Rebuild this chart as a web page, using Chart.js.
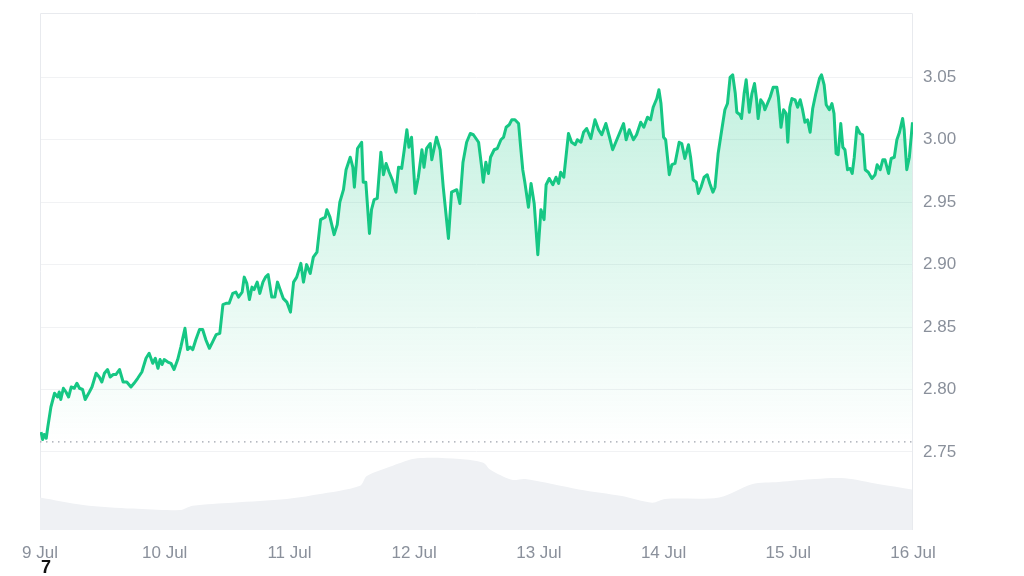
<!DOCTYPE html>
<html>
<head>
<meta charset="utf-8">
<script src="https://cdn.jsdelivr.net/npm/chart.js@4.4.1/dist/chart.umd.min.js"></script>
<style>
  html, body { margin: 0; padding: 0; background: #fff; }
  #wrap { position: relative; width: 1024px; height: 576px; overflow: hidden; }
  #stray { position: absolute; left: 41px; top: 557px; font: bold 18px "Liberation Sans", Arial, sans-serif; color: #111; }
</style>
</head>
<body>
<div id="wrap">
  <canvas id="price-chart"></canvas>
  <div id="stray">7</div>
</div>
<script>
// hours since 9 Jul 00:00
const priceTimes = [
  0.2, 0.5, 0.8, 1.2, 1.5, 2.1, 2.8, 3.4, 3.7, 4.0, 4.5, 5.0, 5.5, 6.0, 6.6, 7.1, 7.6, 8.2, 8.7, 9.5,
  10.0, 10.8, 11.4, 11.9, 12.4, 13.0, 13.5, 14.1, 14.6, 15.3, 16.0, 16.7, 17.5, 18.1, 18.8, 19.6, 20.4, 21.0, 21.7, 22.2,
  22.7, 23.1, 23.5, 23.9, 24.6, 25.2, 25.8, 26.5, 27.1, 27.9, 28.4, 28.9, 29.4, 30.0, 30.7, 31.3, 31.9, 32.6, 33.2, 33.9,
  34.6, 35.2, 35.8, 36.4, 37.1, 37.7, 38.2, 38.9, 39.3, 39.8, 40.3, 40.8, 41.2, 41.8, 42.3, 42.9, 43.4, 43.9, 44.6, 45.2,
  45.7, 46.2, 46.8, 47.5, 48.2, 48.8, 49.4, 50.2, 50.7, 51.3, 52.0, 52.6, 53.3, 54.0, 54.9, 55.2, 55.8, 56.6, 57.2, 57.7,
  58.4, 58.9, 59.3, 59.7, 60.2, 60.5, 61.1, 61.9, 62.2, 62.7, 63.4, 63.8, 64.3, 64.9, 65.6, 66.1, 66.6, 67.2, 67.8, 68.5,
  69.0, 69.6, 70.1, 70.6, 71.0, 71.5, 72.2, 72.8, 73.5, 73.9, 74.4, 75.1, 75.4, 76.3, 77.0, 77.6, 78.6, 79.2, 80.2, 80.8,
  81.4, 82.1, 82.8, 83.4, 84.4, 85.0, 85.3, 85.8, 86.3, 86.7, 87.4, 88.0, 88.7, 89.2, 89.7, 90.3, 90.8, 91.4, 92.1, 92.5,
  92.9, 93.3, 94.0, 94.5, 95.1, 95.8, 96.4, 97.0, 97.4, 98.0, 98.7, 99.3, 99.8, 100.2, 100.8, 101.7, 102.3, 103.0, 103.4, 104.1,
  104.6, 105.2, 106.0, 106.8, 107.5, 108.1, 108.9, 109.6, 110.2, 111.0, 111.8, 112.3, 112.8, 113.4, 114.2, 114.8, 115.6, 116.2, 116.9, 117.5,
  118.0, 118.7, 119.1, 119.5, 120.0, 120.4, 121.1, 121.6, 122.2, 123.0, 123.5, 124.1, 124.8, 125.2, 125.7, 126.3, 126.7, 127.2, 127.8, 128.4,
  128.9, 129.5, 129.9, 130.5, 131.2, 131.8, 132.3, 132.8, 133.3, 133.8, 134.1, 134.7, 135.0, 135.5, 135.9, 136.5, 137.0, 137.5, 137.9, 138.2,
  138.7, 139.2, 139.5, 140.0, 140.5, 141.1, 141.8, 142.1, 142.6, 143.1, 143.6, 143.9, 144.3, 144.7, 145.3, 145.8, 146.3, 146.7, 147.2, 147.7,
  148.2, 148.7, 149.3, 150.0, 150.4, 150.9, 151.3, 151.9, 152.4, 152.8, 153.2, 153.6, 154.1, 154.5, 154.9, 155.4, 155.9, 156.3, 156.7, 157.2,
  157.8, 158.3, 158.8, 159.4, 160.1, 160.7, 161.1, 161.7, 162.2, 162.6, 163.3, 163.8, 164.4, 164.9, 165.4, 166.0, 166.3, 166.8, 167.3, 167.9
];
const priceValues = [
  2.766, 2.760, 2.764, 2.761, 2.770, 2.786, 2.797, 2.794, 2.798, 2.792, 2.801, 2.798, 2.794, 2.802, 2.801, 2.805, 2.801, 2.800, 2.792, 2.798,
  2.802, 2.813, 2.810, 2.806, 2.813, 2.816, 2.810, 2.812, 2.812, 2.816, 2.806, 2.806, 2.802, 2.805, 2.809, 2.814, 2.825, 2.829, 2.821, 2.825,
  2.817, 2.824, 2.820, 2.824, 2.822, 2.821, 2.816, 2.824, 2.834, 2.849, 2.832, 2.834, 2.832, 2.840, 2.848, 2.848, 2.840, 2.833, 2.838, 2.844,
  2.845, 2.868, 2.869, 2.869, 2.877, 2.878, 2.874, 2.878, 2.890, 2.885, 2.872, 2.882, 2.880, 2.886, 2.877, 2.886, 2.890, 2.892, 2.874, 2.874,
  2.886, 2.880, 2.873, 2.870, 2.862, 2.886, 2.890, 2.901, 2.886, 2.900, 2.893, 2.906, 2.910, 2.936, 2.938, 2.944, 2.938, 2.924, 2.932, 2.950,
  2.960, 2.976, 2.981, 2.986, 2.978, 2.962, 2.993, 2.998, 2.966, 2.966, 2.925, 2.944, 2.952, 2.953, 2.990, 2.972, 2.981, 2.974, 2.968, 2.958,
  2.978, 2.977, 2.992, 3.008, 2.994, 3.002, 2.957, 2.970, 2.992, 2.978, 2.993, 2.997, 2.984, 3.002, 2.992, 2.962, 2.921, 2.958, 2.960, 2.949,
  2.982, 2.998, 3.005, 3.004, 2.998, 2.978, 2.966, 2.982, 2.973, 2.986, 2.992, 2.993, 3.000, 3.002, 3.010, 3.012, 3.016, 3.016, 3.013, 2.994,
  2.976, 2.966, 2.946, 2.965, 2.949, 2.908, 2.944, 2.936, 2.964, 2.969, 2.964, 2.970, 2.965, 2.974, 2.970, 3.005, 2.998, 2.996, 3.000, 2.998,
  3.006, 3.009, 3.001, 3.016, 3.008, 3.004, 3.013, 3.002, 2.992, 3.000, 3.008, 3.013, 3.000, 3.008, 3.000, 3.004, 3.014, 3.010, 3.018, 3.016,
  3.026, 3.033, 3.040, 3.029, 3.002, 3.000, 2.972, 2.980, 2.981, 2.998, 2.997, 2.985, 2.996, 2.986, 2.968, 2.966, 2.957, 2.962, 2.970, 2.972,
  2.965, 2.958, 2.962, 2.989, 3.008, 3.024, 3.029, 3.050, 3.052, 3.037, 3.022, 3.020, 3.017, 3.037, 3.048, 3.022, 3.037, 3.045, 3.032, 3.017,
  3.032, 3.029, 3.024, 3.029, 3.034, 3.042, 3.042, 3.034, 3.010, 3.024, 3.021, 2.998, 3.026, 3.033, 3.032, 3.026, 3.032, 3.025, 3.014, 3.016,
  3.006, 3.025, 3.037, 3.049, 3.052, 3.044, 3.028, 3.024, 3.029, 3.021, 2.989, 2.988, 3.013, 2.994, 2.992, 2.976, 2.977, 2.973, 2.986, 3.010,
  3.005, 3.004, 2.976, 2.974, 2.969, 2.972, 2.980, 2.976, 2.984, 2.984, 2.973, 2.985, 2.986, 3.000, 3.006, 3.017, 3.008, 2.976, 2.986, 3.014
];
const baselinePrice = 2.758;

// trading volume, millions USD
const volumeTimes = [0, 8.3, 17.9, 26.9, 29.4, 37.1, 47.5, 53.3, 61.6, 62.9, 67.9, 72.6, 80.8, 85.3,
  86.6, 90.8, 93.4, 103.7, 112.0, 117.8, 120.3, 130.7, 137.0, 142.2, 149.2, 154.9, 161.5, 167.8];
const volumeValues = [44, 34, 29, 27, 33, 37, 42, 48, 60, 73, 87, 97, 96, 91,
  82, 68, 69, 55, 46, 37, 42, 44, 62, 65, 69, 70, 62, 55];

const dayLabels = ['9 Jul', '10 Jul', '11 Jul', '12 Jul', '13 Jul', '14 Jul', '15 Jul', '16 Jul'];
const yTicks = [2.75, 2.80, 2.85, 2.90, 2.95, 3.00, 3.05];

const green = 'rgb(22, 199, 132)';
const labelFont = { family: '"Liberation Sans", Arial, sans-serif', size: 17 };
const labelColor = '#8a909b';

const pricePoints = priceTimes.map((t, i) => ({ x: t, y: priceValues[i] }));
const volumePoints = volumeTimes.map((t, i) => ({ x: t, y: volumeValues[i] }));

function priceFill(context) {
  const { chart } = context;
  const { chartArea, scales } = chart;
  if (!chartArea) return 'rgba(22, 199, 132, 0.15)';
  const top = scales.y.getPixelForValue(3.05);
  const bottom = scales.y.getPixelForValue(baselinePrice);
  const g = chart.ctx.createLinearGradient(0, top, 0, bottom);
  g.addColorStop(0, 'rgba(22, 199, 132, 0.26)');
  g.addColorStop(1, 'rgba(22, 199, 132, 0.0)');
  return g;
}

const frame = {
  id: 'frame',
  beforeDatasetsDraw(chart) {
    const { ctx, chartArea: a } = chart;
    ctx.save();
    ctx.strokeStyle = '#e8eaee';
    ctx.lineWidth = 1;
    ctx.beginPath();
    ctx.moveTo(a.left + 0.5, a.bottom);
    ctx.lineTo(a.left + 0.5, a.top + 0.5);
    ctx.lineTo(a.right - 0.5, a.top + 0.5);
    ctx.lineTo(a.right - 0.5, a.bottom);
    ctx.stroke();
    ctx.restore();
  },
};

new Chart(document.getElementById('price-chart'), {
  type: 'line',
  data: {
    datasets: [
      {
        label: 'Price',
        data: pricePoints,
        borderColor: green,
        borderWidth: 3,
        borderJoinStyle: 'round',
        pointRadius: 0,
        tension: 0,
        fill: { value: baselinePrice },
        backgroundColor: priceFill,
        yAxisID: 'y',
        order: 0,
      },
      {
        label: 'Open',
        data: [{ x: 0, y: baselinePrice }, { x: 168, y: baselinePrice }],
        borderColor: '#9ea3ad',
        borderWidth: 1.2,
        borderDash: [1.5, 4.5],
        pointRadius: 0,
        fill: false,
        yAxisID: 'y',
        order: 1,
      },
      {
        label: 'Volume',
        data: volumePoints,
        borderWidth: 0,
        borderColor: 'rgba(0,0,0,0)',
        backgroundColor: '#eff1f4',
        pointRadius: 0,
        tension: 0.3,
        fill: 'origin',
        yAxisID: 'vol',
        order: 2,
      },
    ],
  },
  options: {
    responsive: true,
    maintainAspectRatio: false,
    animation: false,
    layout: { padding: { left: 40, top: 13, right: 0, bottom: 0 } },
    plugins: { legend: { display: false }, tooltip: { enabled: false } },
    scales: {
      x: {
        type: 'linear',
        min: 0,
        max: 168,
        afterBuildTicks: (axis) => { axis.ticks = dayLabels.map((_, i) => ({ value: i * 24 })); },
        afterFit: (axis) => { axis.height = 46; },
        ticks: {
          autoSkip: false,
          maxRotation: 0,
          padding: 13,
          color: labelColor,
          font: labelFont,
          callback: (value) => dayLabels[Math.round(value / 24)],
        },
        grid: { display: false, drawTicks: false },
        border: { display: false },
      },
      y: {
        position: 'right',
        min: 2.6875,
        max: 3.1015,
        afterBuildTicks: (axis) => { axis.ticks = yTicks.map((v) => ({ value: v })); },
        afterFit: (axis) => { axis.width = 111; axis.paddingTop = 0; axis.paddingBottom = 0; },
        ticks: {
          padding: 10,
          color: labelColor,
          font: labelFont,
          callback: (value) => Number(value).toFixed(2),
        },
        grid: { color: '#f1f2f4', drawTicks: false },
        border: { display: false },
      },
      vol: {
        display: false,
        min: 0,
        max: 700,
      },
    },
  },
  plugins: [frame],
});
</script>
</body>
</html>
